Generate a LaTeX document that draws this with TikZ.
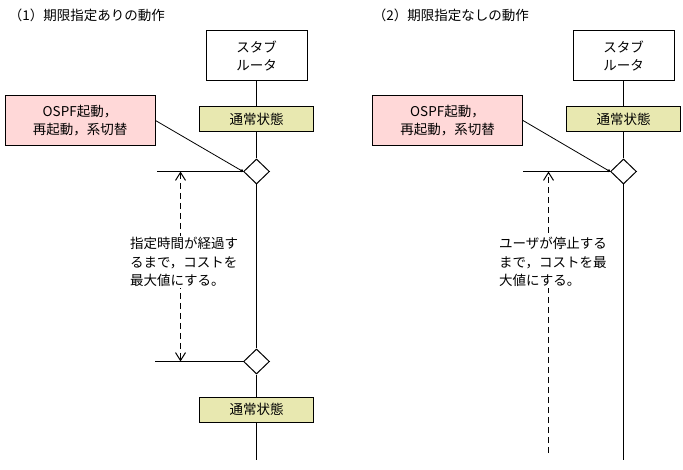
\documentclass[tikz,border=0pt]{standalone}
\usepackage{fontspec}
\setmainfont{Noto Sans CJK JP}
\usetikzlibrary{positioning, arrows.meta, shapes.geometric}
\definecolor{stateyellow}{RGB}{232,232,176}
\definecolor{eventpink}{RGB}{255,216,216}

\begin{document}
\begin{tikzpicture}[
    % GLOBAL CFG
    x=1pt, y=-1pt,
    font=\fontsize{13.5}{18.5}\selectfont,
    line width=1pt,
    >={Straight Barb[length=8pt,width=10pt]},
    % Styles
    router/.style={% For the stub router
        rectangle,
        draw,
        fill=white,
        minimum width=101pt,
        minimum height=50pt,
        align=center,
    },
    state/.style={% For normal states
        rectangle,
        draw,
        fill=stateyellow,
        minimum width=114pt,
        minimum height=25pt,
    },
    event/.style={% For triggering events
        rectangle,
        draw,
        fill=eventpink,
        minimum width=150pt,
        minimum height=50pt,
        align=center,
    },
    branch/.style={% For decision points
        diamond,
        draw,
        fill=white,
        inner sep=0pt,
        minimum width=26pt,
        minimum height=25pt,
    },
    note/.style={% For explanations
        fill=white,
        align=left,
        inner sep=1pt,
    },
    heading/.style={
        anchor=west,
    },
    Wait/.style={% Dashed arrows
        dash pattern=on 6pt off 4pt,
    },
    ]
    \useasboundingbox (0,0) rectangle (683,470);

    % Coordinates
    \coordinate (startL1) at (157,171.5);
    \coordinate (startL2) at (155,361.5);
    \coordinate (endL) at (256.5,460);
    \coordinate (startR) at (523,171.5);
    \coordinate (endR) at (623.5,460);

    % Draw titles
    \node [heading] (titleL) at (5,15) {（1）期限指定ありの動作};
    \node [heading] (titleR) at (369,15) {（2）期限指定なしの動作};

    % Draw left side
    \node [router] (routerL) at (256.5,56) {スタブ\\ルータ};
    \node [state] (stateL1) at (256.5,119.5) {通常状態};
    \node [event] (eventL) at (80,120.5) {OSPF起動，\\再起動，系切替};
    \node [branch] (branchL1) at (256.5,171.5) {};
    \node [branch] (branchL2) at (256.5,361.5) {};
    \node [state] (stateL2) at (256.5,409.5) {通常状態};

    % Draw right side
    \node [router] (routerR) at (623.5,56) {スタブ\\ルータ};
    \node [state] (stateR) at (623.5,119.5) {通常状態};
    \node [event] (eventR) at (447.5,120.5) {OSPF起動，\\再起動，系切替};
    \node [branch] (branchR) at (623.5,171.5) {};

    % Connect all
    \draw (routerL) -- (stateL1) -- (branchL1) -- (branchL2) -- (stateL2) -- (endL);
    \draw (routerR) -- (stateR) -- (branchR) -- (endR);
    \draw [line width=.8pt, -{Circle[length=3pt]}] (eventL.east) -- (branchL1.west);
    \draw [line width=.8pt, -{Circle[length=3pt]}] (eventR.east) -- (branchR.west);
    \draw (startL1) -- (branchL1.west);
    \draw (startL2) -- (branchL2.west);
    \draw (startR) -- (branchR.west);

    % Waiting time
    \draw [<->, Wait] (180.5,171.5) -- (180.5,361.5);
    \draw [->, Wait] (548.5,453) -- (548.5,171.5);
    \node [note] (noteL) at (184,262) {指定時間が経過す\\るまで，コストを\\最大値にする。};
    \node [note] (noteR) at (553,262) {ユーザが停止する\\まで，コストを最\\大値にする。};

\end{tikzpicture}
\end{document}
